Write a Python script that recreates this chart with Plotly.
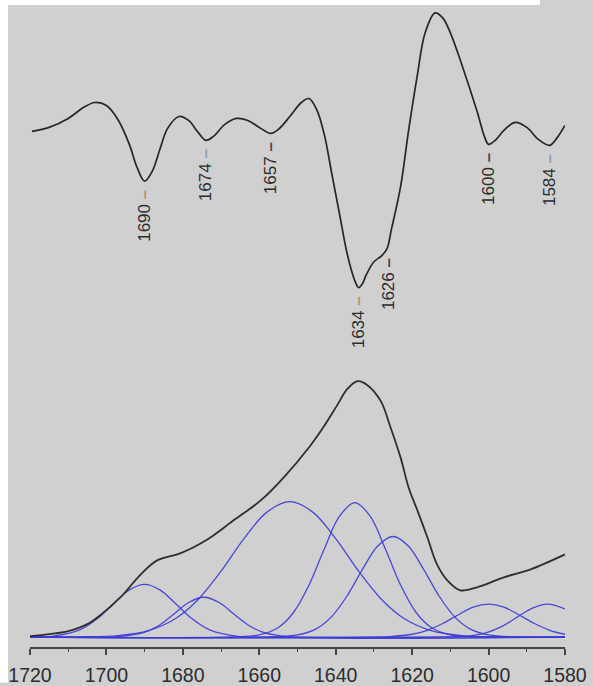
import plotly.graph_objects as go

# ---------------------------------------------------------------------------
# Amide I region, wavenumber in cm-1 (axis runs high -> low)
# ---------------------------------------------------------------------------
x_ticks = [1720, 1700, 1680, 1660, 1640, 1620, 1600, 1580]

# Second-derivative spectrum (arbitrary units)
d2_wn = [1719.5, 1715, 1710, 1706, 1703, 1700, 1697, 1694, 1692, 1690, 1688,
         1686, 1684, 1681, 1678.5, 1676, 1674, 1672, 1669, 1666, 1663, 1660,
         1657, 1655, 1652, 1649, 1647, 1645, 1643, 1641, 1639, 1637, 1635,
         1634, 1633, 1632, 1630, 1628, 1626.6, 1625.4, 1623, 1621, 1618.7,
         1616.6, 1614, 1612, 1610, 1607, 1603, 1601, 1600, 1598, 1596, 1593,
         1590, 1587, 1584, 1582, 1580]
d2_val = [0.08, 0.12, 0.21, 0.32, 0.37, 0.34, 0.20, -0.05, -0.28, -0.42, -0.32,
          -0.10, 0.11, 0.23, 0.19, 0.07, -0.01, 0.03, 0.15, 0.21, 0.19, 0.12,
          0.06, 0.10, 0.23, 0.37, 0.41, 0.30, 0.05, -0.35, -0.75, -1.15, -1.42,
          -1.49, -1.45, -1.36, -1.23, -1.17, -1.10, -0.90, -0.47, 0.07, 0.63,
          1.07, 1.27, 1.22, 1.07, 0.75, 0.28, 0.02, -0.05, 0.00, 0.09, 0.17,
          0.12, 0.00, -0.06, 0.02, 0.14]

# Labelled minima of the second derivative
min_wn = [1690, 1674, 1657, 1634, 1626, 1600, 1584]
min_val = [-0.42, -0.01, 0.06, -1.49, -1.10, -0.05, -0.06]
min_mark_color = ["#b8926a", "#7da3c4", "#444444", "#b8926a",
                  "#444444", "#444444", "#7da3c4"]

# Measured absorbance spectrum
abs_wn = [1720, 1715, 1710, 1705, 1701.6, 1696.3, 1691, 1686.7, 1680.7,
          1673.6, 1666.8, 1659.7, 1653.7, 1646.7, 1643.2, 1639.6, 1637,
          1634.3, 1631.7, 1628.2, 1625.6, 1623, 1620.9, 1618.6, 1616,
          1613.5, 1610.8, 1607.4, 1603, 1596, 1589, 1580]
abs_val = [0.001, 0.003, 0.006, 0.013, 0.022, 0.040, 0.063, 0.077, 0.084,
           0.098, 0.117, 0.137, 0.160, 0.192, 0.211, 0.233, 0.249,
           0.257, 0.253, 0.237, 0.210, 0.180, 0.150, 0.127, 0.100,
           0.073, 0.057, 0.047, 0.050, 0.060, 0.068, 0.083]

# Fitted band components (absorbance)
band_1690_wn = [1720, 1714, 1707, 1702, 1698, 1694, 1690, 1686, 1682, 1678,
                1673, 1666, 1650, 1580]
band_1690_val = [0.0001, 0.0010, 0.0072, 0.0196, 0.0340, 0.0474, 0.0530,
                 0.0474, 0.0340, 0.0196, 0.0072, 0.0010, 0.0, 0.0]

band_1674_wn = [1720, 1697, 1690.5, 1686.5, 1682.5, 1678.5, 1674.5, 1670.5,
                1666.5, 1662.5, 1658.5, 1652.5, 1580]
band_1674_val = [0.0, 0.0005, 0.0041, 0.0111, 0.0226, 0.0347, 0.0400,
                 0.0347, 0.0226, 0.0111, 0.0041, 0.0005, 0.0]

band_1652_wn = [1720, 1707, 1697, 1689, 1682, 1676, 1670, 1664, 1658, 1652,
                1646, 1640, 1634, 1628, 1622, 1615, 1607, 1597, 1580]
band_1652_val = [0.0, 0.0002, 0.0015, 0.0065, 0.0184, 0.0378, 0.0662, 0.0988,
                 0.1255, 0.1360, 0.1255, 0.0988, 0.0662, 0.0378, 0.0184,
                 0.0065, 0.0015, 0.0002, 0.0]

band_1635_wn = [1720, 1667, 1660, 1655, 1651, 1647, 1643, 1639, 1635, 1631,
                1627, 1623, 1619, 1615, 1610, 1603, 1580]
band_1635_val = [0.0, 0.0002, 0.0022, 0.0096, 0.0249, 0.0521, 0.0885, 0.1215,
                 0.1350, 0.1215, 0.0885, 0.0521, 0.0249, 0.0096, 0.0022,
                 0.0002, 0.0]

band_1625_wn = [1720, 1657, 1650, 1645, 1641, 1637, 1633, 1629, 1625, 1621,
                1617, 1613, 1609, 1605, 1600, 1593, 1580]
band_1625_val = [0.0, 0.0002, 0.0021, 0.0085, 0.0208, 0.0415, 0.0680, 0.0915,
                 0.1010, 0.0915, 0.0680, 0.0415, 0.0208, 0.0085, 0.0021,
                 0.0002, 0.0]

band_1600_wn = [1720, 1626, 1620, 1616, 1612, 1608, 1604, 1600, 1596, 1592,
                1588, 1584, 1580]
band_1600_val = [0.0, 0.0005, 0.0028, 0.0068, 0.0136, 0.0222, 0.0301, 0.0330,
                 0.0301, 0.0222, 0.0136, 0.0068, 0.0028]

band_1584_wn = [1720, 1610.5, 1604.5, 1600.5, 1596.5, 1592.5, 1588.5, 1584.5,
                1580]
band_1584_val = [0.0, 0.0002, 0.0015, 0.0045, 0.0107, 0.0200, 0.0291, 0.0330,
                 0.0282]

bands = [
    (band_1690_wn, band_1690_val),
    (band_1674_wn, band_1674_val),
    (band_1652_wn, band_1652_val),
    (band_1635_wn, band_1635_val),
    (band_1625_wn, band_1625_val),
    (band_1600_wn, band_1600_val),
    (band_1584_wn, band_1584_val),
]

# ---------------------------------------------------------------------------
W, H = 593, 686
M_L, M_R, M_T, M_B = 30, 28, 0, 36
BG = "#d0d0d0"
BAND_BLUE = "#3a3ad8"
TEXT = "#2c2c2c"
FONT = "Arial, 'Liberation Sans', sans-serif"

fig = go.Figure()

for wn, val in bands:
    fig.add_trace(go.Scatter(
        x=wn, y=val, mode="lines", yaxis="y",
        line=dict(color=BAND_BLUE, width=1.3, shape="spline", smoothing=1.0),
        opacity=0.9, hoverinfo="skip",
    ))

fig.add_trace(go.Scatter(
    x=abs_wn, y=abs_val, mode="lines", yaxis="y",
    line=dict(color="#2e2e2e", width=1.8, shape="spline", smoothing=1.0),
    hoverinfo="skip",
))

fig.add_trace(go.Scatter(
    x=d2_wn, y=d2_val, mode="lines", yaxis="y2",
    line=dict(color="#262626", width=1.7, shape="spline", smoothing=1.0),
    hoverinfo="skip",
))

annotations = []
for wn, val, col in zip(min_wn, min_val, min_mark_color):
    annotations.append(dict(
        x=wn, y=val, xref="x", yref="y2",
        text=f"{wn} <span style='color:{col}'><b>–</b></span>",
        textangle=-90, showarrow=False,
        xanchor="center", yanchor="top", yshift=-7,
        font=dict(family=FONT, size=17, color=TEXT),
    ))

# white frame strips along the left and top edges
plot_w = W - M_L - M_R
plot_h = H - M_T - M_B
shapes = [
    dict(type="rect", xref="paper", yref="paper",
         x0=-M_L / plot_w, x1=(8 - M_L) / plot_w, y0=-M_B / plot_h, y1=1.0,
         fillcolor="white", line=dict(width=0), layer="above"),
    dict(type="rect", xref="paper", yref="paper",
         x0=-M_L / plot_w, x1=(540 - M_L) / plot_w,
         y0=1.0 - 5 / plot_h, y1=1.0,
         fillcolor="white", line=dict(width=0), layer="above"),
]

fig.update_layout(
    width=W, height=H,
    margin=dict(l=M_L, r=M_R, t=M_T, b=M_B, pad=0),
    paper_bgcolor=BG, plot_bgcolor=BG,
    showlegend=False,
    annotations=annotations,
    shapes=shapes,
    xaxis=dict(
        range=[1720, 1580], tickvals=x_ticks,
        ticks="outside", ticklen=6, tickwidth=1.5, tickcolor="#444444",
        showline=True, linecolor="#444444", linewidth=1.5,
        showgrid=False, zeroline=False,
        tickfont=dict(family=FONT, size=19.5, color=TEXT),
        ticklabelstandoff=4,
        minor=dict(dtick=10, ticks="outside", ticklen=3, tickwidth=1.2,
                   tickcolor="#444444", showgrid=False),
    ),
    yaxis=dict(range=[-0.01, 0.64], visible=False, fixedrange=True),
    yaxis2=dict(range=[-5.10, 1.40], visible=False, overlaying="y",
                fixedrange=True),
)

fig.write_html("out.html")
